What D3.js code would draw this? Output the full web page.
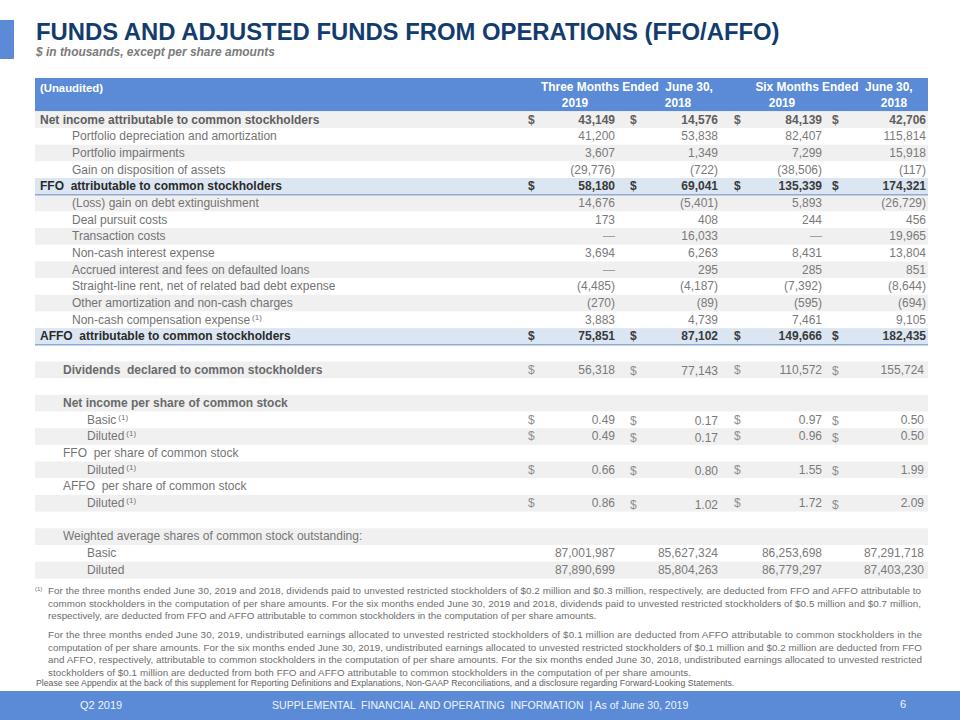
<!DOCTYPE html>
<html><head><meta charset="utf-8">
<script src="https://cdn.jsdelivr.net/npm/d3@7"></script>
<style>
html,body{margin:0;padding:0;background:#fff;}
svg{display:block;font-family:"Liberation Sans",Arial,Helvetica,sans-serif;}
text{white-space:pre;}
</style></head>
<body><svg id="c" width="960" height="720"></svg>
<script>
// ---------------- DATA ----------------
const title = "FUNDS AND ADJUSTED FUNDS FROM OPERATIONS (FFO/AFFO)";
const subtitle = "$ in thousands, except per share amounts";
const groupHeaders = ["Three Months Ended  June 30,", "Six Months Ended  June 30,"];
const periodLabels = ["2019", "2018", "2019", "2018"];
const rowLabels = [
  "Net income attributable to common stockholders",
  "Portfolio depreciation and amortization",
  "Portfolio impairments",
  "Gain on disposition of assets",
  "FFO  attributable to common stockholders",
  "(Loss) gain on debt extinguishment",
  "Deal pursuit costs",
  "Transaction costs",
  "Non-cash interest expense",
  "Accrued interest and fees on defaulted loans",
  "Straight-line rent, net of related bad debt expense",
  "Other amortization and non-cash charges",
  "Non-cash compensation expense",
  "AFFO  attributable to common stockholders",
  "",
  "Dividends  declared to common stockholders",
  "",
  "Net income per share of common stock",
  "Basic",
  "Diluted",
  "FFO  per share of common stock",
  "Diluted",
  "AFFO  per share of common stock",
  "Diluted",
  "",
  "Weighted average shares of common stock outstanding:",
  "Basic",
  "Diluted"
];
const rowKinds = ["bold","item","item","item","key","item","item","item","item","item","item","item","item","key",
  "spacer","bold2","blank","bold2","sub","sub","head","sub","head","sub","blank","head","sub","sub"];
const rowFootnote = [0,0,0,0,0,0,0,0,0,0,0,0,1,0,0,0,0,0,1,1,0,1,0,1,0,0,0,0];
const rowDollar   = [1,0,0,0,1,0,0,0,0,0,0,0,0,1,0,1,0,0,1,1,0,1,0,1,0,0,0,0];
const threeMonths2019 = ["43,149","41,200","3,607","(29,776)","58,180","14,676","173","\u2014","3,694","\u2014","(4,485)","(270)","3,883","75,851",
  "","56,318","","","0.49","0.49","","0.66","","0.86","","","87,001,987","87,890,699"];
const threeMonths2018 = ["14,576","53,838","1,349","(722)","69,041","(5,401)","408","16,033","6,263","295","(4,187)","(89)","4,739","87,102",
  "","77,143","","","0.17","0.17","","0.80","","1.02","","","85,627,324","85,804,263"];
const sixMonths2019 = ["84,139","82,407","7,299","(38,506)","135,339","5,893","244","\u2014","8,431","285","(7,392)","(595)","7,461","149,666",
  "","110,572","","","0.97","0.96","","1.55","","1.72","","","86,253,698","86,779,297"];
const sixMonths2018 = ["42,706","115,814","15,918","(117)","174,321","(26,729)","456","19,965","13,804","851","(8,644)","(694)","9,105","182,435",
  "","155,724","","","0.50","0.50","","1.99","","2.09","","","87,291,718","87,403,230"];
const footnoteP1 = [
  "For the three months ended June 30, 2019 and 2018, dividends paid to unvested restricted stockholders of $0.2 million and $0.3 million, respectively, are deducted from FFO and AFFO attributable to",
  "common stockholders in the computation of per share amounts. For the six months ended June 30, 2019 and 2018, dividends paid to unvested restricted stockholders of $0.5 million and $0.7 million,",
  "respectively, are deducted from FFO and AFFO attributable to common stockholders in the computation of per share amounts."
];
const footnoteP2 = [
  "For the three months ended June 30, 2019, undistributed earnings allocated to unvested restricted stockholders of $0.1 million are deducted from AFFO attributable to common stockholders in the",
  "computation of per share amounts. For the six months ended June 30, 2019, undistributed earnings allocated to unvested restricted stockholders of $0.1 million and $0.2 million are deducted from FFO",
  "and AFFO, respectively, attributable to common stockholders in the computation of per share amounts. For the six months ended June 30, 2018, undistributed earnings allocated to unvested restricted",
  "stockholders of $0.1 million are deducted from both FFO and AFFO attributable to common stockholders in the computation of per share amounts."
];
const disclaimer = "Please see Appendix at the back of this supplement for Reporting Definitions and Explanations, Non-GAAP Reconciliations, and a disclosure regarding Forward-Looking Statements.";
const footerLeft = "Q2 2019";
const footerCenter = "SUPPLEMENTAL  FINANCIAL AND OPERATING  INFORMATION  | As of June 30, 2019";
const pageNumber = "6";

// ---------------- DRAW ----------------
const svg = d3.select("#c");
const BLUE = "#5b8bd7";
const tableX0 = 35, tableX1 = 928;
const columns = [threeMonths2019, threeMonths2018, sixMonths2019, sixMonths2018];
const FS = 12;

// left accent bar
svg.append("rect").attr("x",0).attr("y",20).attr("width",14).attr("height",39).attr("fill",BLUE);

function fitWidth(sel, w){ const L = sel.node().getComputedTextLength(); const fs = +sel.attr("font-size"); sel.attr("font-size", fs*w/L); }
// title
const t = svg.append("text").attr("x",36).attr("y",40).attr("fill","#133c6e")
  .attr("font-weight","bold").attr("font-size",21).text(title);
fitWidth(t, 744);
const st = svg.append("text").attr("x",36).attr("y",55.5).attr("fill","#7b7b7b")
  .attr("font-weight","bold").attr("font-style","italic").attr("font-size",11).text(subtitle);
fitWidth(st, 239);

// scales
const y = d3.scaleBand().domain(d3.range(rowLabels.length)).range([111.3, 578.3]).padding(0);
const colIdx = d3.range(4);
const valueRight = d3.scaleOrdinal().domain(colIdx).range([615, 718, 822, 926]);
const dollarLeft = d3.scaleOrdinal().domain(colIdx).range([528, 630, 734, 832]);
const yearCenter = d3.scaleOrdinal().domain(colIdx).range([575, 678, 782, 894]);
const groupCenter = d3.scaleOrdinal().domain([0,1]).range([627, 834]);

// header
svg.append("rect").attr("x",tableX0).attr("y",78).attr("width",tableX1-tableX0).attr("height",33.3).attr("fill",BLUE);
const ua = svg.append("text").attr("x",40).attr("y",92).attr("fill","#fff").attr("font-weight","bold").attr("font-size",11.5).text("(Unaudited)");
fitWidth(ua, 63);
const gh = svg.selectAll("text.grp").data(groupHeaders).join("text").attr("class","grp")
  .attr("x",(d,i)=>groupCenter(i)).attr("y",91).attr("text-anchor","middle")
  .attr("fill","#fff").attr("font-weight","bold").attr("font-size",12).text(d=>d);
fitWidth(gh.filter((d,i)=>i===0), 172);
gh.filter((d,i)=>i===1).attr("font-size", gh.filter((d,i)=>i===0).attr("font-size"));
svg.selectAll("text.yr").data(periodLabels).join("text").attr("class","yr")
  .attr("x",(d,i)=>yearCenter(i)).attr("y",107).attr("text-anchor","middle")
  .attr("fill","#fff").attr("font-weight","bold").attr("font-size",gh.attr("font-size")).text(d=>d);

// row backgrounds: alternate shading restarting after key rows, spacer not counted
let shadeCounter = 0;
const rowFill = rowKinds.map(k=>{
  if (k==="key"){ shadeCounter = 0; return "#dce6f2"; }
  if (k==="spacer") return "#ffffff";
  const f = (shadeCounter % 2 === 0) ? "#f0f0f0" : "#ffffff";
  shadeCounter++;
  return f;
});
svg.selectAll("rect.row").data(rowLabels).join("rect").attr("class","row")
  .attr("x",tableX0).attr("y",(d,i)=>y(i)).attr("width",tableX1-tableX0).attr("height",y.bandwidth()+0.4)
  .attr("fill",(d,i)=>rowFill[i]);
// underline key rows
svg.selectAll("line.ul").data(d3.range(rowLabels.length).filter(i=>rowKinds[i]==="key")).join("line").attr("class","ul")
  .attr("x1",tableX0).attr("x2",tableX1).attr("y1",i=>y(i)+y.bandwidth()).attr("y2",i=>y(i)+y.bandwidth())
  .attr("stroke","#8eaad6").attr("stroke-width",1.6);

const labelX = {bold:40, item:72, key:40, bold2:63, head:63, sub:87, blank:63, spacer:63};
const labelColor = {bold:"#5e5e5e", item:"#737373", key:"#2a2a2a", bold2:"#6a6a6a", head:"#757575", sub:"#757575", blank:"#757575", spacer:"#757575"};
const isBold = k => k==="bold"||k==="key"||k==="bold2";
const upper = i => i < 14;

// labels
const lab = svg.selectAll("text.lab").data(rowLabels).join("text").attr("class","lab")
  .attr("x",(d,i)=>labelX[rowKinds[i]]).attr("y",(d,i)=>y(i)+12.2)
  .attr("font-size",FS).attr("fill",(d,i)=>labelColor[rowKinds[i]])
  .attr("font-weight",(d,i)=>isBold(rowKinds[i])?"bold":"normal");
lab.append("tspan").text(d=>d);
lab.filter((d,i)=>rowFootnote[i]).append("tspan").attr("font-size",8).attr("dy",-4).attr("dx",2).text("(1)");

// values
const cells = [];
rowLabels.forEach((lbl,i)=>colIdx.forEach(c=>{ if (columns[c][i]) cells.push({row:i,col:c,v:columns[c][i]}); }));
const valColor = r => rowKinds[r]==="key" ? "#3a3a3a" : (rowKinds[r]==="bold" ? "#5e5e5e" : "#7a7a7a");
svg.selectAll("text.val").data(cells).join("text").attr("class","val")
  .attr("x",d=> upper(d.row) ? valueRight(d.col) : valueRight(d.col) - (d.col===3 ? 2 : 0))
  .attr("y",d=>y(d.row)+12.2 + (!upper(d.row) && d.col===1 && rowDollar[d.row] ? 1.5 : 0))
  .attr("text-anchor","end").attr("font-size",FS)
  .attr("font-weight",d=> (rowKinds[d.row]==="bold"||rowKinds[d.row]==="key") ? "bold":"normal")
  .attr("fill",d=> d.v==="\u2014" ? "#a0a0a0" : valColor(d.row)).text(d=>d.v);
// dollar signs
const dollars = [];
rowLabels.forEach((lbl,i)=>{ if (rowDollar[i]) colIdx.forEach(c=>dollars.push({row:i,col:c})); });
svg.selectAll("text.dol").data(dollars).join("text").attr("class","dol")
  .attr("x",d=>dollarLeft(d.col)).attr("y",d=>y(d.row)+12.2 + (!upper(d.row) && (d.col===1||d.col===3) ? 1.5 : 0))
  .attr("font-size",FS)
  .attr("font-weight",d=> (rowKinds[d.row]==="bold"||rowKinds[d.row]==="key") ? "bold":"normal")
  .attr("fill",d=> upper(d.row) ? valColor(d.row) : "#8f8f8f").text("$");

// footnotes
const fnColor = "#6e6e6e";
svg.append("text").attr("x",35).attr("y",591).attr("font-size",6).attr("fill",fnColor).text("(1)");
const fnSize = 8.4;
const p1 = svg.selectAll("text.p1").data(footnoteP1).join("text").attr("class","p1")
  .attr("x",48).attr("y",(d,i)=>594+i*12.6).attr("font-size",fnSize).attr("fill",fnColor).text(d=>d);
const natural = p1.filter((d,i)=>i===2).node().getComputedTextLength();
const fs = fnSize*547/natural;
p1.attr("font-size",fs);
p1.filter((d,i)=>i<2).attr("textLength",873).attr("lengthAdjust","spacing");
const p2 = svg.selectAll("text.p2").data(footnoteP2).join("text").attr("class","p2")
  .attr("x",48).attr("y",(d,i)=>638+i*12.6).attr("font-size",fs).attr("fill",fnColor).text(d=>d);
p2.filter((d,i)=>i<3).attr("textLength",874).attr("lengthAdjust","spacing");
p2.filter((d,i)=>i===3).attr("textLength",643).attr("lengthAdjust","spacing");
const ds = svg.append("text").attr("x",36).attr("y",686).attr("font-size",7.6).attr("fill","#5f5f5f").text(disclaimer);
fitWidth(ds, 699);

// footer
svg.append("rect").attr("x",0).attr("y",691).attr("width",960).attr("height",29).attr("fill",BLUE);
svg.append("text").attr("x",80).attr("y",708.5).attr("font-size",11).attr("fill","#eef3fb").text(footerLeft);
const fc = svg.append("text").attr("x",272).attr("y",708.5).attr("font-size",11).attr("fill","#eef3fb").text(footerCenter);
fitWidth(fc, 417);
svg.append("text").attr("x",900).attr("y",708).attr("font-size",11).attr("fill","#eef3fb").text(pageNumber);
</script></body></html>
